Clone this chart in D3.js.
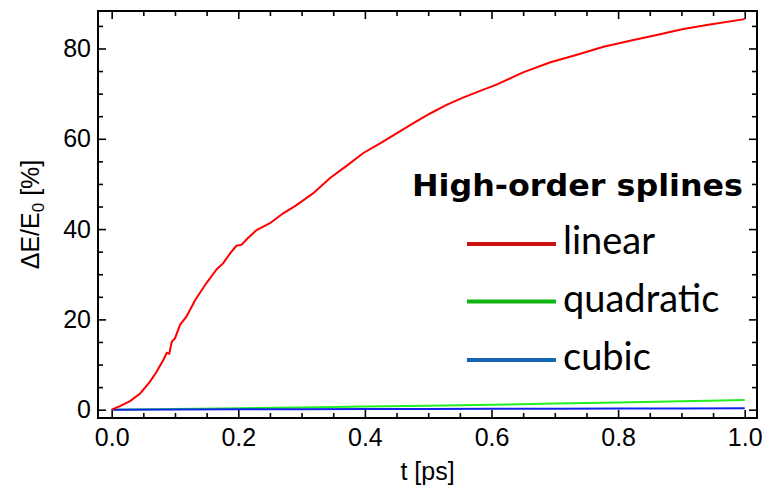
<!DOCTYPE html>
<html>
<head>
<meta charset="utf-8">
<script src="https://cdn.jsdelivr.net/npm/d3@7"></script>
<style>
  body { margin: 0; background: #fff; }
  svg { display: block; }
</style>
</head>
<body>
<script>
// red curve: linear splines as [t, dE/E0]
var linearT = [0, 0.013, 0.029, 0.045, 0.060, 0.071, 0.0815, 0.087, 0.091, 0.095, 0.100, 0.108, 0.118, 0.132, 0.139, 0.150, 0.166, 0.176, 0.187, 0.197, 0.205, 0.213, 0.229, 0.250, 0.271, 0.292, 0.318, 0.345, 0.371, 0.397, 0.424, 0.450, 0.476, 0.503, 0.529, 0.555, 0.582, 0.608, 0.650, 0.692, 0.735, 0.777, 0.819, 0.861, 0.903, 0.945, 1.0]
var linearV = [0, 0.8, 1.9, 3.6, 6.1, 8.4, 11.0, 12.6, 12.4, 15.1, 15.8, 18.8, 20.6, 24.3, 25.8, 28.1, 31.1, 32.4, 34.6, 36.3, 36.5, 37.7, 39.8, 41.3, 43.5, 45.3, 47.9, 51.3, 54.0, 56.8, 59.0, 61.2, 63.4, 65.6, 67.5, 69.1, 70.6, 72.0, 74.7, 76.9, 78.6, 80.4, 81.7, 83.0, 84.3, 85.3, 86.5]

// green and blue curves share one t grid
var smallT = [0, 0.1, 0.2, 0.3, 0.4, 0.5, 0.6, 0.7, 0.8, 0.9, 1.0]
var quadraticV = [0, 0.15, 0.3, 0.5, 0.7, 0.9, 1.1, 1.35, 1.6, 1.85, 2.15]
var cubicV = [0, 0.05, 0.1, 0.12, 0.15, 0.18, 0.2, 0.22, 0.25, 0.27, 0.3]

var xTicks = [0, 0.2, 0.4, 0.6, 0.8, 1.0]
var yTicks = [0, 20, 40, 60, 80]

var legendNames = ["linear", "quadratic", "cubic"]
var legendTitle = "High-order splines"

var w = 766
var h = 491
// plot frame (window.top is read-only, so use other names)
var fL = 98, fR = 757, fT = 11, fB = 418

var svg = d3.select("body")
    .append("svg")
    .attr("width", w)
    .attr("height", h)

var xScale = d3.scaleLinear()
    .domain([-0.0216, 1.0194])
    .range([fL, fR])

var yScale = d3.scaleLinear()
    .domain([-1.84, 88.3])
    .range([fB, fT])

// minor tick values
var xMinor = d3.range(0, 1.0001, 0.05).filter(function(v) { return Math.abs(v * 5 - Math.round(v * 5)) > 1e-6 })
var yMinor = d3.range(0, 86, 5).filter(function(v) { return v % 20 != 0 })

function addAxis(axisFn, scale, vals, size, labels, tx, ty) {
    var ax = axisFn(scale)
        .tickValues(vals)
        .tickSize(-size)
        .tickPadding(axisFn === d3.axisBottom ? 10 : 7)
        .tickFormat(labels ? d3.format(axisFn === d3.axisLeft ? "d" : ".1f") : "")
    var g = svg.append("g")
        .attr("transform", "translate(" + tx + "," + ty + ")")
        .call(ax)
    g.select(".domain").remove()
    g.selectAll(".tick line").attr("stroke", "#000").attr("stroke-width", 1.6)
    g.selectAll(".tick text")
        .attr("font-family", "'Liberation Sans', Arial, sans-serif")
        .attr("font-size", 25)
        .attr("fill", "#000")
    return g
}

// ticks on all four sides, pointing inward
addAxis(d3.axisBottom, xScale, xTicks, 8, true, 0, fB)
addAxis(d3.axisBottom, xScale, xMinor, 5, false, 0, fB)
addAxis(d3.axisTop, xScale, xTicks, 8, false, 0, fT)
addAxis(d3.axisTop, xScale, xMinor, 5, false, 0, fT)
addAxis(d3.axisLeft, yScale, yTicks, 8, true, fL, 0)
addAxis(d3.axisLeft, yScale, yMinor, 5, false, fL, 0)
addAxis(d3.axisRight, yScale, yTicks, 8, false, fR, 0)
addAxis(d3.axisRight, yScale, yMinor, 5, false, fR, 0)

// frame
svg.append("rect")
    .attr("x", fL)
    .attr("y", fT)
    .attr("width", fR - fL)
    .attr("height", fB - fT)
    .attr("fill", "none")
    .attr("stroke", "#000")
    .attr("stroke-width", 2)

var line = d3.line()
    .x(function(d) { return xScale(d[0]) })
    .y(function(d) { return yScale(d[1]) })

var series = [
    { t: smallT, v: quadraticV, color: "#22ee22" },
    { t: smallT, v: cubicV, color: "#1122ee" },
    { t: linearT, v: linearV, color: "#ff0000" }
]

series.forEach(function(s) {
    svg.append("path")
        .datum(s.t.map(function(t, i) { return [t, s.v[i]] }))
        .attr("d", line)
        .attr("fill", "none")
        .attr("stroke", s.color)
        .attr("stroke-width", 2)
})

// axis labels
svg.append("text")
    .attr("text-anchor", "middle")
    .attr("x", (fL + fR) / 2)
    .attr("y", 480)
    .attr("font-size", 25)
    .attr("font-family", "'Liberation Sans', Arial, sans-serif")
    .text("t [ps]")

var yl = svg.append("text")
    .attr("text-anchor", "middle")
    .attr("transform", "translate(39," + ((fT + fB) / 2) + ") rotate(-90)")
    .attr("font-size", 25)
    .attr("font-family", "'Liberation Sans', Arial, sans-serif")
yl.append("tspan").text("\u0394E/E")
yl.append("tspan").attr("font-size", 17).attr("dy", 5).text("0")
yl.append("tspan").attr("dy", -5).text(" [%]")

// legend
svg.append("text")
    .attr("x", 412)
    .attr("y", 196)
    .attr("font-family", "'DejaVu Sans', sans-serif")
    .attr("font-weight", "bold")
    .attr("font-size", 30)
    .attr("textLength", 331)
    .attr("lengthAdjust", "spacingAndGlyphs")
    .text(legendTitle)

var legendColors = ["#cc1111", "#11b511", "#1565b0"]
var legendY = [244, 301.5, 360]

legendNames.forEach(function(name, i) {
    svg.append("line")
        .attr("x1", 467)
        .attr("x2", 556)
        .attr("y1", legendY[i])
        .attr("y2", legendY[i])
        .attr("stroke", legendColors[i])
        .attr("stroke-width", 4)
    svg.append("text")
        .attr("x", 563)
        .attr("y", legendY[i] + 10)
        .attr("font-family", "Lato, sans-serif")
        .attr("font-size", 38)
        .text(name)
})
</script>
</body>
</html>
